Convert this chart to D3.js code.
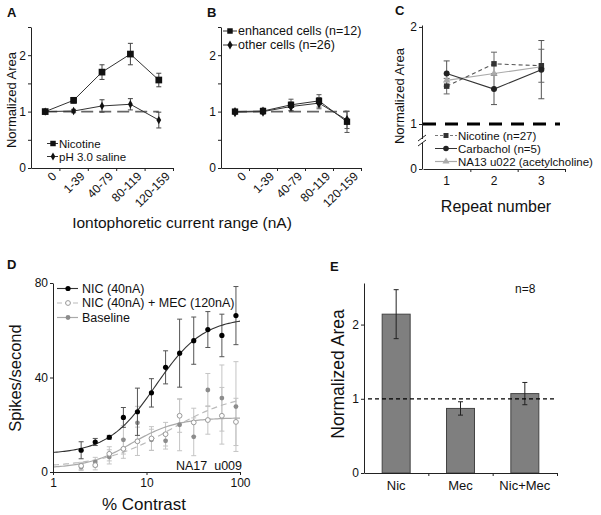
<!DOCTYPE html>
<html><head><meta charset="utf-8">
<script src="https://cdn.jsdelivr.net/npm/d3@7"></script>
<style>
body{margin:0;background:#fff;}
svg{display:block;}
</style></head><body>
<svg id="chart" width="601" height="515"></svg>
<script>
// ---------------- DATA ----------------
const abCategories = ["0", "1-39", "40-79", "80-119", "120-159"];
const aNicotine    = [1.00, 1.20, 1.70, 2.02, 1.56];
const aNicotineErr = [0.03, 0.05, 0.13, 0.19, 0.12];
const aSaline      = [1.00, 1.01, 1.10, 1.13, 0.85];
const aSalineErr   = [0.00, 0.03, 0.11, 0.10, 0.14];

const bEnhanced    = [1.00, 1.01, 1.12, 1.19, 0.82];
const bEnhancedErr = [0.02, 0.05, 0.10, 0.11, 0.19];
const bOther       = [0.99, 1.00, 1.09, 1.15, 0.85];
const bOtherErr    = [0.02, 0.04, 0.08, 0.10, 0.15];

const cRepeats       = [1, 2, 3];
const cNicotine      = [1.39, 1.62, 1.60];
const cNicotineErr   = [0.08, 0.12, 0.17];
const cCarbachol     = [1.52, 1.36, 1.56];
const cCarbacholErr  = [0.13, 0.16, 0.30];
const cAcetylcholine = [1.45, 1.52, 1.59];

const dContrast  = [2, 2.83, 4, 5.66, 8, 11.3, 16, 22.6, 32, 45.3, 64, 90.5];
const dNic       = [9.2, 12.7, 14.7, 23.1, 25.5, 33.5, 44.3, 50.3, 55.6, 60.3, 57.8, 66.2];
const dNicErr    = [3.6, 1.5, 0.8, 4.2, 10.0, 6.0, 7.0, 14.4, 10.0, 7.6, 9.0, 12.3];
const dNicMec    = [2.6, 2.9, 7.7, 9.8, 13.0, 14.2, 16.0, 23.8, 21.0, 22.0, 23.8, 21.2];
const dNicMecErr = [1.5, 2.0, 3.0, 4.0, 6.0, 5.0, 5.0, 7.0, 6.0, 6.0, 12.0, 10.0];
const dBaseline  = [2.1, 4.2, 6.4, 13.6, 20.8, 13.6, 13.2, 20.0, 14.9, 34.7, 31.3, 27.7];
const dBaseErr   = [1.5, 2.0, 3.0, 6.0, 7.0, 4.5, 3.5, 11.0, 8.0, 7.0, 14.0, 19.0];
// Naka-Rushton fit parameters for the fitted curves
const dNicFit    = {base: 7.5, rmax: 58, c50: 12.5, n: 1.7};
const dNicMecFit = {base: 2.0, rmax: 32, c50: 18, n: 1.2};
const dBaseFit   = {base: 1.5, rmax: 21.5, c50: 7, n: 1.8};

const eCategories = ["Nic", "Mec", "Nic+Mec"];
const eValues     = [2.14, 0.87, 1.07];
const eErr        = [0.33, 0.09, 0.15];

const abYTicks = [0, 0.5, 1, 1.5, 2, 2.5], abYLabels = [0, 1, 2];
const cYTicks = [0, 1, 2];
const dXTicks = [1, 10, 100], dYTicks = [0, 40, 80];
const eYTicks = [0, 1, 2];

// ---------------- HELPERS ----------------
const FONT = "Arial, 'Liberation Sans', Helvetica, sans-serif";
const svg = d3.select("#chart").attr("font-family", FONT);
svg.append("rect").attr("width", 601).attr("height", 515).attr("fill", "#fff");

function styleAxis(g, fs) {
  g.attr("font-family", FONT);
  g.selectAll("path.domain").attr("stroke", "#222").attr("stroke-width", 1);
  g.selectAll(".tick line").attr("stroke", "#222");
  g.selectAll(".tick text").attr("font-size", fs).attr("fill", "#111");
}
function leftAxis(scale, x, tickVals, labelVals, fs, fmt) {
  const g = svg.append("g").attr("transform", `translate(${x},0)`)
    .call(d3.axisLeft(scale).tickValues(tickVals).tickSize(3).tickSizeOuter(0).tickPadding(2)
      .tickFormat(d => labelVals.includes(d) ? (fmt ? fmt(d) : String(d)) : ""));
  styleAxis(g, fs);
  return g;
}
function catAxis(band, y, fs, rotate) {
  const [r0, r1] = band.range();
  const n = band.domain().length;
  const lin = d3.scaleLinear().domain([0, n]).range([r0, r1]);
  const g = svg.append("g").attr("transform", `translate(0,${y})`)
    .call(d3.axisBottom(lin).tickValues(d3.range(1, n + 1)).tickSize(3).tickSizeOuter(0).tickFormat(""));
  styleAxis(g, fs);
  const lg = svg.append("g").attr("font-size", fs).attr("fill", "#111");
  band.domain().forEach(c => {
    const cx = band(c) + band.bandwidth() / 2;
    if (rotate) lg.append("text").attr("text-anchor", "end")
      .attr("transform", `translate(${cx + 9},${y + 6}) rotate(-45)`).attr("dy", "0.35em").text(c);
    else lg.append("text").attr("text-anchor", "middle").attr("x", cx).attr("y", y + 17).text(c);
  });
}
function errBars(xs, ys, es, xf, yf, color, cap, w) {
  const g = svg.append("g").attr("stroke", color).attr("stroke-width", w || 1);
  xs.forEach((x, i) => {
    if (!es[i]) return;
    const px = xf(x), y1 = yf(ys[i] - es[i]), y2 = yf(ys[i] + es[i]);
    g.append("line").attr("x1", px).attr("x2", px).attr("y1", y1).attr("y2", y2);
    g.append("line").attr("x1", px - cap).attr("x2", px + cap).attr("y1", y1).attr("y2", y1);
    g.append("line").attr("x1", px - cap).attr("x2", px + cap).attr("y1", y2).attr("y2", y2);
  });
}
function linePath(xs, ys, xf, yf, color, w, dash) {
  const p = svg.append("path")
    .attr("d", d3.line().x((d, i) => xf(xs[i])).y(d => yf(d))(ys))
    .attr("fill", "none").attr("stroke", color).attr("stroke-width", w);
  if (dash) p.attr("stroke-dasharray", dash);
}
function markers(xs, ys, xf, yf, type, size, fill, stroke) {
  const sym = d3.symbol().type(type).size(size);
  xs.forEach((x, i) => {
    svg.append("path").attr("d", sym()).attr("transform", `translate(${xf(x)},${yf(ys[i])})`)
      .attr("fill", fill).attr("stroke", stroke || "none").attr("stroke-width", 1);
  });
}
function circles(xs, ys, xf, yf, r, fill, stroke) {
  xs.forEach((x, i) => {
    svg.append("circle").attr("cx", xf(x)).attr("cy", yf(ys[i])).attr("r", r)
      .attr("fill", fill).attr("stroke", stroke || "none").attr("stroke-width", 1);
  });
}
function text(t, x, y, fs, opts = {}) {
  const el = svg.append("text").attr("x", x).attr("y", y).attr("font-size", fs)
    .attr("fill", opts.fill || "#111").text(t);
  if (opts.anchor) el.attr("text-anchor", opts.anchor);
  if (opts.bold) el.attr("font-weight", "bold");
  if (opts.rotate) el.attr("transform", `rotate(-90,${x},${y})`);
  return el;
}
function legendItem(x1, x2, y, mx, color, w, dash, drawMarker, label, tx, fs) {
  const l = svg.append("line").attr("x1", x1).attr("x2", x2).attr("y1", y).attr("y2", y)
    .attr("stroke", color).attr("stroke-width", w);
  if (dash) l.attr("stroke-dasharray", dash);
  drawMarker(mx, y);
  text(label, tx, y + 4, fs);
}
function sym(type, size, fill, stroke) {
  return (x, y) => svg.append("path").attr("d", d3.symbol().type(type).size(size)())
    .attr("transform", `translate(${x},${y})`).attr("fill", fill).attr("stroke", stroke || "none");
}
function circ(r, fill, stroke) {
  return (x, y) => svg.append("circle").attr("cx", x).attr("cy", y).attr("r", r)
    .attr("fill", fill).attr("stroke", stroke || "none");
}

// ---------------- PANEL A ----------------
const xA = d3.scaleBand().domain(abCategories).range([31, 173]).padding(0);
const yAB = d3.scaleLinear().domain([0, 2.5]).range([168, 27]);
const cxA = c => xA(c) + xA.bandwidth() / 2;
text("A", 7, 17, 13, {bold: true});
svg.append("line").attr("x1", cxA("0")).attr("x2", cxA("120-159")).attr("y1", yAB(1)).attr("y2", yAB(1))
  .attr("stroke", "#666").attr("stroke-width", 1.8).attr("stroke-dasharray", "12,6");
errBars(abCategories, aNicotine, aNicotineErr, cxA, yAB, "#444", 2.5, 1);
errBars(abCategories, aSaline, aSalineErr, cxA, yAB, "#444", 2.5, 1);
linePath(abCategories, aNicotine, cxA, yAB, "#333", 1);
linePath(abCategories, aSaline, cxA, yAB, "#333", 1);
markers(abCategories, aNicotine, cxA, yAB, d3.symbolSquare, 45, "#111");
markers(abCategories, aSaline, cxA, yAB, d3.symbolDiamond, 20, "#111");
leftAxis(yAB, 31, abYTicks, abYLabels, 12);
catAxis(xA, 168, 12, true);
text("Normalized Area", 16, 100, 13, {anchor: "middle", rotate: true});
legendItem(47, 58, 143.5, 53, "#333", 1, null, sym(d3.symbolSquare, 30, "#111"), "Nicotine", 59, 11.5);
legendItem(47, 58, 156.5, 53, "#333", 1, null, sym(d3.symbolDiamond, 18, "#111"), "pH 3.0 saline", 59, 11.5);

// ---------------- PANEL B ----------------
const xB = d3.scaleBand().domain(abCategories).range([221, 361]).padding(0);
const cxB = c => xB(c) + xB.bandwidth() / 2;
text("B", 207, 17, 13, {bold: true});
svg.append("line").attr("x1", cxB("0")).attr("x2", cxB("120-159")).attr("y1", yAB(1)).attr("y2", yAB(1))
  .attr("stroke", "#666").attr("stroke-width", 1.8).attr("stroke-dasharray", "12,6");
errBars(abCategories, bEnhanced, bEnhancedErr, cxB, yAB, "#555", 2.5, 1);
errBars(abCategories, bOther, bOtherErr, cxB, yAB, "#555", 2.5, 1);
linePath(abCategories, bEnhanced, cxB, yAB, "#333", 1);
linePath(abCategories, bOther, cxB, yAB, "#333", 1);
markers(abCategories, bEnhanced, cxB, yAB, d3.symbolSquare, 40, "#111");
markers(abCategories, bOther, cxB, yAB, d3.symbolDiamond, 30, "#111");
leftAxis(yAB, 221, abYTicks, abYLabels, 12);
catAxis(xB, 168, 12, true);
legendItem(223, 237, 31, 230, "#333", 1, null, sym(d3.symbolSquare, 30, "#111"), "enhanced cells (n=12)", 238, 12.5);
legendItem(223, 237, 45, 230, "#333", 1, null, sym(d3.symbolDiamond, 24, "#111"), "other cells (n=26)", 238, 12.5);
text("Iontophoretic current range (nA)", 182, 228, 15.5, {anchor: "middle"});

// ---------------- PANEL C ----------------
const xC = d3.scaleLinear().domain([0.5, 3.5]).range([423, 565]);
const yC = d3.scaleLinear().domain([0, 1, 2.02]).range([169, 124, 25]);
text("C", 395, 15, 13, {bold: true});
svg.append("line").attr("x1", 423).attr("x2", 560).attr("y1", yC(1)).attr("y2", yC(1))
  .attr("stroke", "#000").attr("stroke-width", 3).attr("stroke-dasharray", "13,9");
errBars(cRepeats, cCarbachol, cCarbacholErr, xC, yC, "#555", 3, 1);
errBars(cRepeats, cNicotine, cNicotineErr, xC, yC, "#666", 3, 1);
linePath(cRepeats, cAcetylcholine, xC, yC, "#aaa", 1.2);
linePath(cRepeats, cNicotine, xC, yC, "#555", 1.1, "4,3");
linePath(cRepeats, cCarbachol, xC, yC, "#333", 1.1);
markers(cRepeats, cAcetylcholine, xC, yC, d3.symbolTriangle, 24, "#aaa");
markers(cRepeats, cNicotine, xC, yC, d3.symbolSquare, 30, "#333");
circles(cRepeats, cCarbachol, xC, yC, 3, "#222");
leftAxis(yC, 422, cYTicks, cYTicks, 12);
// x axis with ticks between the repeat numbers
{
  const g = svg.append("g").attr("transform", `translate(0,${yC(0)})`)
    .call(d3.axisBottom(xC).tickValues([1.5, 2.5, 3.5]).tickSize(3).tickSizeOuter(0).tickFormat(""));
  styleAxis(g, 12);
  cRepeats.forEach(r => text(String(r), xC(r), yC(0) + 16, 12, {anchor: "middle"}));
}
// axis break mark
svg.append("rect").attr("x", 419).attr("y", 139).attr("width", 6).attr("height", 4).attr("fill", "#fff");
svg.append("line").attr("x1", 418).attr("x2", 426).attr("y1", 141).attr("y2", 135).attr("stroke", "#222");
svg.append("line").attr("x1", 418).attr("x2", 426).attr("y1", 146).attr("y2", 140).attr("stroke", "#222");
text("Normalized Area", 403.5, 96, 13, {anchor: "middle", rotate: true});
legendItem(435, 457, 135.5, 446, "#777", 1, "3,2", sym(d3.symbolSquare, 25, "#333"), "Nicotine (n=27)", 458, 11.5);
legendItem(435, 457, 148.5, 446, "#333", 1, null, circ(2.8, "#222"), "Carbachol (n=5)", 458, 11.5);
legendItem(435, 457, 161.5, 446, "#aaa", 1.2, null, sym(d3.symbolTriangle, 22, "#aaa"), "NA13 u022 (acetylcholine)", 458, 11.5);
text("Repeat number", 496, 212, 16, {anchor: "middle"});

// ---------------- PANEL D ----------------
const xD = d3.scaleLog().domain([1, 100]).range([53, 240]);
const yD = d3.scaleLinear().domain([0, 80]).range([472, 283]);
text("D", 7, 269, 13, {bold: true});
const nr = p => c => p.base + p.rmax * Math.pow(c, p.n) / (Math.pow(c, p.n) + Math.pow(p.c50, p.n));
const fitGrid = d3.range(0, 2.0001, 0.02).map(e => Math.pow(10, e));
function fitCurve(p, color, w, dash) {
  const f = nr(p);
  const el = svg.append("path").attr("d", d3.line().x(c => xD(c)).y(c => yD(f(c)))(fitGrid))
    .attr("fill", "none").attr("stroke", color).attr("stroke-width", w);
  if (dash) el.attr("stroke-dasharray", dash);
}
errBars(dContrast, dBaseline, dBaseErr, xD, yD, "#c4c4c4", 2.5, 1);
errBars(dContrast, dNicMec, dNicMecErr, xD, yD, "#c4c4c4", 2.5, 1);
fitCurve(dBaseFit, "#aaa", 1.2);
fitCurve(dNicMecFit, "#bbb", 1.2, "6,4");
circles(dContrast, dBaseline, xD, yD, 2.4, "#8c8c8c");
circles(dContrast, dNicMec, xD, yD, 2.4, "#fff", "#999");
errBars(dContrast, dNic, dNicErr, xD, yD, "#555", 2.5, 1);
fitCurve(dNicFit, "#333", 1.1);
circles(dContrast, dNic, xD, yD, 2.6, "#000");
leftAxis(yD, 53, dYTicks, dYTicks, 12);
{
  const g = svg.append("g").attr("transform", "translate(0,472)")
    .call(d3.axisBottom(xD).tickValues(dXTicks).tickSize(3).tickSizeOuter(0).tickPadding(3).tickFormat(d3.format("d")));
  styleAxis(g, 12);
}
text("NA17\u00a0\u00a0u009", 242, 470, 12.5, {anchor: "end"});
text("Spikes/second", 21, 378, 16.5, {anchor: "middle", rotate: true});
text("% Contrast", 144, 510, 17, {anchor: "middle"});
legendItem(57, 78, 288.5, 68, "#333", 1.1, null, circ(2.6, "#000"), "NIC (40nA)", 82, 12.5);
legendItem(57, 78, 303, 68, "#bbb", 1.2, "5,3", circ(2.4, "#fff", "#999"), "NIC (40nA) + MEC (120nA)", 82, 12.5);
legendItem(57, 78, 317.5, 68, "#aaa", 1.2, null, circ(2.4, "#8c8c8c"), "Baseline", 82, 12.5);

// ---------------- PANEL E ----------------
const xE = d3.scaleBand().domain(eCategories).range([364, 557]).paddingInner(0.565).paddingOuter(0.2825);
const yE = d3.scaleLinear().domain([0, 2.56]).range([473, 283]);
text("E", 330, 271, 13, {bold: true});
svg.append("g").selectAll("rect").data(eCategories).join("rect")
  .attr("x", d => xE(d)).attr("width", xE.bandwidth())
  .attr("y", (d, i) => yE(eValues[i])).attr("height", (d, i) => yE(0) - yE(eValues[i]))
  .attr("fill", "#7f7f7f").attr("stroke", "#444").attr("stroke-width", 1);
errBars(eCategories, eValues, eErr, d => xE(d) + xE.bandwidth() / 2, yE, "#222", 2.5, 1);
svg.append("line").attr("x1", 368).attr("x2", 557).attr("y1", yE(1)).attr("y2", yE(1))
  .attr("stroke", "#000").attr("stroke-width", 1.2).attr("stroke-dasharray", "4,3");
leftAxis(yE, 364, eYTicks, eYTicks, 12);
catAxis(xE, 473, 13, false);
text("Normalized Area", 343.5, 374, 17.5, {anchor: "middle", rotate: true});
text("n=8", 515, 293, 12);
</script>
</body></html>
